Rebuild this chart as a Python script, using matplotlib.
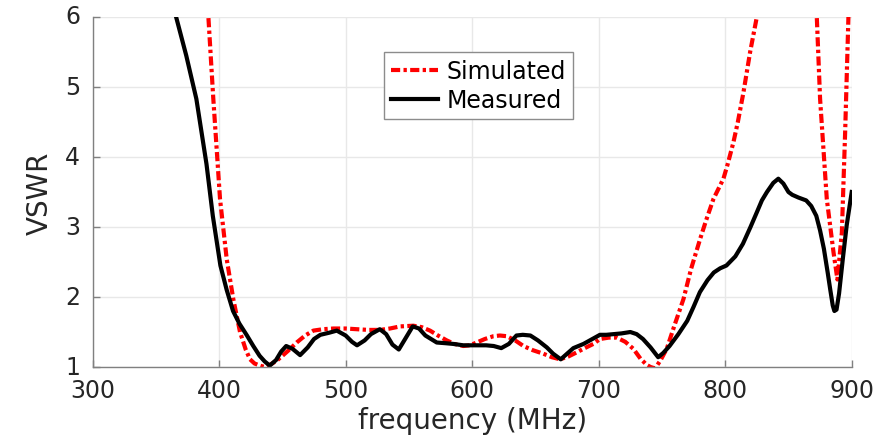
import matplotlib
matplotlib.use("Agg")
import matplotlib.pyplot as plt
import matplotlib.transforms as mtransforms

# Measured VSWR
meas_f = [366, 374, 382, 390, 395, 401, 406, 411, 416, 422, 427, 432, 436, 440, 445,
          449, 453, 458, 464, 470, 475, 480, 487, 493, 500, 505, 509, 515, 520, 527,
          532, 537, 542, 547, 553, 558, 563, 572, 579, 585, 593, 601, 611, 617, 623,
          629, 635, 640, 646, 652, 659, 664, 670, 675, 680, 688, 695, 701, 706, 712,
          718, 725, 730, 735, 741, 747, 751, 756, 763, 770, 775, 780, 786, 791, 796,
          801, 808, 814, 820, 825, 829, 833, 838, 842, 846, 850, 853, 858, 864, 868,
          872, 875, 878, 881, 883, 885, 886.3, 888, 890, 893, 896, 900]
meas_v = [6.0, 5.45, 4.83, 3.90, 3.16, 2.45, 2.10, 1.80, 1.62, 1.45, 1.30, 1.16, 1.08, 1.02, 1.10,
          1.22, 1.30, 1.26, 1.17, 1.28, 1.40, 1.46, 1.49, 1.52, 1.45, 1.36, 1.31, 1.38, 1.47, 1.54,
          1.47, 1.32, 1.25, 1.40, 1.58, 1.55, 1.45, 1.35, 1.34, 1.33, 1.31, 1.31, 1.31, 1.30, 1.27,
          1.33, 1.45, 1.46, 1.45, 1.38, 1.28, 1.19, 1.11, 1.19, 1.27, 1.33, 1.40, 1.46, 1.46, 1.47,
          1.48, 1.50, 1.47, 1.40, 1.28, 1.14, 1.20, 1.30, 1.47, 1.66, 1.86, 2.07, 2.24, 2.35, 2.41,
          2.45, 2.58, 2.76, 3.00, 3.21, 3.38, 3.50, 3.63, 3.69, 3.62, 3.50, 3.46, 3.42, 3.38, 3.30,
          3.16, 2.95, 2.69, 2.35, 2.11, 1.88, 1.80, 1.82, 2.05, 2.55, 3.02, 3.50]

# Simulated VSWR
sim_f = [375, 385, 391.5, 395.4, 400.7, 406, 411.2, 416.5, 421, 424.4, 428, 432.3, 436, 440,
         445.5, 450, 455, 461.3, 468, 474.5, 482, 490.3, 500, 508.8, 518, 527.2, 535, 543,
         553.5, 560, 566.7, 573, 579.9, 586, 593, 598, 603.6, 610, 616.8, 622, 627.3, 634,
         640.5, 648, 656.3, 663, 669.5, 676, 682.7, 689, 695.8, 701, 708, 714.3, 721, 727.4,
         733, 738, 741, 744.6, 749, 753.8, 760, 767, 773, 780.2, 785, 790.7, 798.6, 802,
         806.5, 810, 814.4, 819.7, 825, 835, 850, 862, 868, 872.4, 875, 880.3, 885.6, 888.7,
         892.2, 894.8, 897.4, 900]
sim_v = [10.0, 7.6, 6.0, 4.83, 3.40, 2.54, 1.97, 1.50, 1.25, 1.11, 1.05, 1.02, 1.00, 1.03,
         1.09, 1.16, 1.24, 1.35, 1.45, 1.52, 1.54, 1.55, 1.55, 1.54, 1.53, 1.53, 1.55, 1.58,
         1.59, 1.57, 1.52, 1.45, 1.38, 1.33, 1.30, 1.31, 1.35, 1.40, 1.44, 1.45, 1.44, 1.38,
         1.30, 1.24, 1.19, 1.14, 1.11, 1.15, 1.21, 1.27, 1.33, 1.40, 1.42, 1.42, 1.36, 1.26,
         1.12, 1.03, 1.00, 0.98, 1.10, 1.26, 1.60, 1.97, 2.40, 2.83, 3.10, 3.40, 3.69, 3.90,
         4.21, 4.50, 4.92, 5.50, 6.00, 7.20, 8.50, 8.00, 7.00, 6.00, 4.83, 3.40, 2.64, 2.25,
         2.92, 4.35, 6.00, 7.50]

x_ticks = [300, 400, 500, 600, 700, 800, 900]
y_ticks = [1, 2, 3, 4, 5, 6]

plt.rcParams['font.family'] = ['DejaVu Sans']
text_col = '#262626'
axis_col = '#808080'

fig = plt.figure(figsize=(8.94, 4.39), dpi=100)
ax = fig.add_axes([0.1036, 0.1617, 0.8491, 0.7973])

ax.plot(sim_f, sim_v, color='#ff0000', linewidth=3.0,
        linestyle=(0, (2.2, 0.8, 0.8, 0.8)), label='Simulated')
ax.plot(meas_f, meas_v, color='black', linewidth=3.0, label='Measured')

ax.set_xlim(300, 900)
ax.set_ylim(1, 6)
ax.set_xticks(x_ticks)
ax.set_yticks(y_ticks)
ax.grid(True, color='#e8e8e8', linewidth=1.0)
ax.set_axisbelow(True)

for s in ['top', 'right']:
    ax.spines[s].set_visible(False)
for s in ['left', 'bottom']:
    ax.spines[s].set_color(axis_col)
    ax.spines[s].set_linewidth(1.0)

ax.tick_params(axis='both', direction='in', length=5, width=1.0, color=axis_col,
               labelcolor=text_col, labelsize=17)
ax.tick_params(axis='x', pad=8)
ax.tick_params(axis='y', pad=9)

# y tick labels sit slightly above their tick, as in the reference
offset = mtransforms.ScaledTranslation(0, 3 / 100, fig.dpi_scale_trans)
for lab in ax.get_yticklabels():
    lab.set_transform(lab.get_transform() + offset)

ax.set_xlabel('frequency (MHz)', fontsize=20, color=text_col, labelpad=3)
ax.set_ylabel('VSWR', fontsize=20, color=text_col, labelpad=8)

leg = ax.legend(loc='upper center', bbox_to_anchor=(0.508, 0.90), fontsize=17,
                handlelength=2.0, handletextpad=0.35, labelspacing=0.2,
                borderpad=0.3, borderaxespad=0.0, fancybox=False, framealpha=1.0)
leg.get_frame().set_edgecolor('#8c8c8c')
leg.get_frame().set_linewidth(1.0)
for t in leg.get_texts():
    t.set_color('black')

fig.savefig('out.png', dpi=100)
